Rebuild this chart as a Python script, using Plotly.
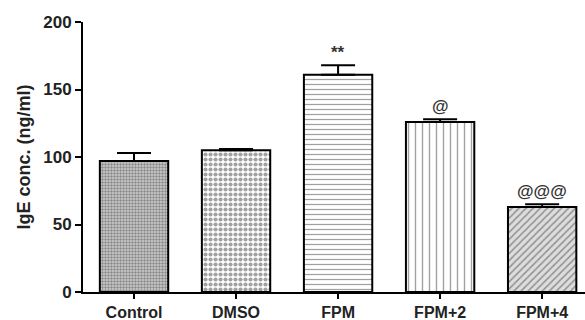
import plotly.graph_objects as go

categories = ["Control", "DMSO", "FPM", "FPM+2", "FPM+4"]
values = [97, 105, 161, 126, 63]
errors = [6, 1, 7, 2, 2]
marks = ["", "", "**", "@", "@@@"]

shapes = [".", ".", "-", "|", "/"]
fgcolors = ["#555555", "#000000", "#666666", "#777777", "#666666"]
sizes = [3, 5, 5, 7, 5]
solidity = [0.5, 0.55, 0.25, 0.2, 0.3]
bgcolors = ["#cfcfcf", "#ffffff", "#ffffff", "#ffffff", "#dddddd"]

fig = go.Figure()
fig.add_trace(go.Bar(
    x=categories, y=values, width=0.67,
    marker=dict(
        color=bgcolors,
        line=dict(color="black", width=2),
        pattern=dict(shape=shapes, fgcolor=fgcolors, size=sizes, solidity=solidity, fillmode="overlay"),
    ),
    error_y=dict(type="data", symmetric=False, array=errors, arrayminus=[0]*5,
                 color="black", thickness=2, width=17),
    showlegend=False,
))
for c, v, e, m in zip(categories, values, errors, marks):
    if m:
        fig.add_annotation(x=c, y=v + e, text="<b>" + m + "</b>", showarrow=False, yanchor="bottom", yshift=1,
                           font=dict(family="Liberation Sans", size=17, color="#333333"))

fig.update_layout(
    width=585, height=320,
    margin=dict(l=83, r=0, t=22, b=28),
    paper_bgcolor="white", plot_bgcolor="white",
    font=dict(family="Liberation Sans", color="black"),
    xaxis=dict(range=[-0.5, 4.42], showline=True, linecolor="black", linewidth=2, automargin=False,
               ticks="outside", ticklen=5, tickwidth=2, tickcolor="black",
               tickfont=dict(size=16, family="Liberation Sans", weight="bold", color="#222222"), showgrid=False),
    yaxis=dict(range=[0, 200], tickvals=[0, 50, 100, 150, 200], showline=True, linecolor="black", linewidth=2,
               automargin=False,
               ticks="outside", ticklen=6, tickwidth=2, tickcolor="black", showgrid=False, zeroline=False,
               tickfont=dict(size=17, family="Liberation Sans", weight="bold", color="#222222"),
               title=dict(text="IgE conc. (ng/ml)", font=dict(size=18, family="Liberation Sans", weight="bold", color="#222222"), standoff=8)),
)
fig.write_html("out.html", post_script="document.body.style.margin='0';", config={"displayModeBar": False})
